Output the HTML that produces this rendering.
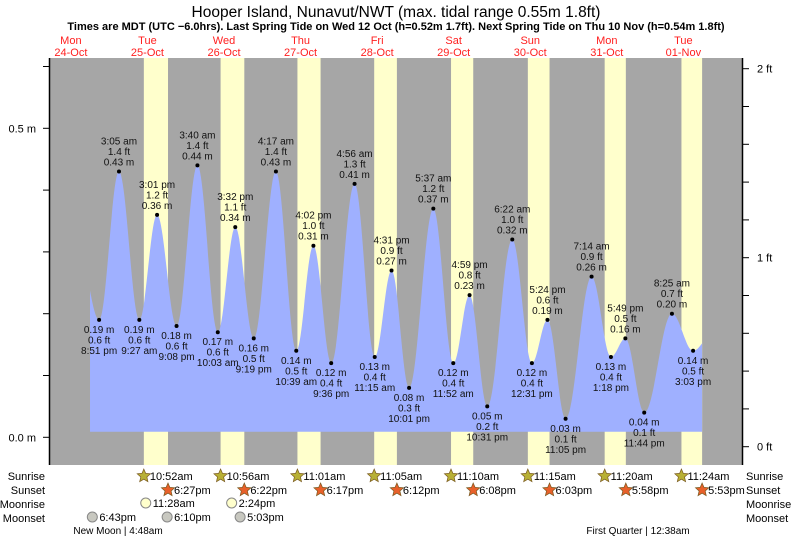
<!DOCTYPE html>
<html><head><meta charset="utf-8"><style>
body{margin:0;background:#fff;}
svg{display:block;font-family:"Liberation Sans",Arial,sans-serif;}
</style></head><body>
<svg id="chart" width="793" height="539" viewBox="0 0 793 539" xmlns="http://www.w3.org/2000/svg">
<text x="396" y="17" text-anchor="middle" font-size="15.5" fill="#000">Hooper Island, Nunavut/NWT (max. tidal range 0.55m 1.8ft)</text>
<text x="396" y="30" text-anchor="middle" font-size="11" font-weight="bold" fill="#000">Times are MDT (UTC −6.0hrs). Last Spring Tide on Wed 12 Oct (h=0.52m 1.7ft). Next Spring Tide on Thu 10 Nov (h=0.54m 1.8ft)</text>
<g id="days"></g>
<rect x="50" y="58" width="692" height="407" fill="#a6a6a6"/>
<g id="daylight"></g>
<path id="tide" fill="#9fb0ff"/>
<g id="marks"></g>
<line x1="49.5" y1="58" x2="49.5" y2="465" stroke="#000" stroke-width="1.5"/>
<line x1="742.5" y1="58" x2="742.5" y2="465" stroke="#000" stroke-width="1.5"/>
<g id="axes"></g>
<g id="astro"></g>
</svg>
<script>
const NS='http://www.w3.org/2000/svg';
// data
const dayNames=['Mon','Tue','Wed','Thu','Fri','Sat','Sun','Mon','Tue'];
const dayDates=['24-Oct','25-Oct','26-Oct','27-Oct','28-Oct','29-Oct','30-Oct','31-Oct','01-Nov'];
const tideTimes=[20.85,27.08,33.45,39.02,45.13,51.67,58.05,63.53,69.32,76.28,82.65,88.03,93.6,100.93,107.25,112.52,118.02,125.62,131.87,136.98,142.52,150.37,156.52,161.4,167.08,175.23,181.3,185.82,191.73,200.42,207.05];
const tideHeights=[0.19,0.43,0.19,0.36,0.18,0.44,0.17,0.34,0.16,0.43,0.14,0.31,0.12,0.41,0.13,0.27,0.08,0.37,0.12,0.23,0.05,0.32,0.12,0.19,0.03,0.26,0.13,0.16,0.04,0.20,0.14];
const tideFeet=['0.6','1.4','0.6','1.2','0.6','1.4','0.6','1.1','0.5','1.4','0.5','1.0','0.4','1.3','0.4','0.9','0.3','1.2','0.4','0.8','0.2','1.0','0.4','0.6','0.1','0.9','0.4','0.5','0.1','0.7','0.5'];
const tideLabels=['8:51 pm','3:05 am','9:27 am','3:01 pm','9:08 pm','3:40 am','10:03 am','3:32 pm','9:19 pm','4:17 am','10:39 am','4:02 pm','9:36 pm','4:56 am','11:15 am','4:31 pm','10:01 pm','5:37 am','11:52 am','4:59 pm','10:31 pm','6:22 am','12:31 pm','5:24 pm','11:05 pm','7:14 am','1:18 pm','5:49 pm','11:44 pm','8:25 am','3:03 pm'];
const sunriseT=[34.87,58.93,83.02,107.08,131.17,155.25,179.33,203.4];
const sunriseL=['10:52am','10:56am','11:01am','11:05am','11:10am','11:15am','11:20am','11:24am'];
const sunsetT=[42.45,66.37,90.28,114.2,138.13,162.05,185.97,209.88];
const sunsetL=['6:27pm','6:22pm','6:17pm','6:12pm','6:08pm','6:03pm','5:58pm','5:53pm'];
const moonriseT=[35.47,62.4];
const moonriseL=['11:28am','2:24pm'];
const moonsetT=[18.72,42.17,65.05];
const moonsetL=['6:43pm','6:10pm','5:03pm'];
const mTicks=[0,0.1,0.2,0.3,0.4,0.5,0.6];
const ftTicks=[0,0.2,0.4,0.6,0.8,1,1.2,1.4,1.6,1.8,2];

const X=t=>32.6+t*3.19;
const Y=h=>437.3-618*h;
const YF=f=>446.7-189*f;
function el(tag,attrs,parent,txt){const e=document.createElementNS(NS,tag);for(const k in attrs)e.setAttribute(k,attrs[k]);if(txt!==undefined)e.textContent=txt;parent.appendChild(e);return e;}
const days=document.getElementById('days');
dayNames.forEach((d,i)=>{
  const x=X(i*24+12);
  const t1=el('text',{x:x,y:44,'text-anchor':'middle','font-size':11,fill:'#ff2020'},days,d);
  
  
  const t2=el('text',{x:x,y:56,'text-anchor':'middle','font-size':11,fill:'#ff2020'},days,dayDates[i]);
  
  
});
const dl=document.getElementById('daylight');
sunriseT.forEach((s,i)=>{
  const r=el('rect',{x:X(s),y:58,width:X(sunsetT[i])-X(s),height:407,fill:'#ffffcc'},dl);
  
  
});
// tide curve
const pts=[[14.6,0.30]].concat(tideTimes.map((t,i)=>[t,tideHeights[i]])).concat([[213.5,0.17]]);
function hAt(t){for(let i=0;i<pts.length-1;i++){const a=pts[i],b=pts[i+1];if(t>=a[0]&&t<=b[0]){const f=(t-a[0])/(b[0]-a[0]);return a[1]+(b[1]-a[1])*(1-Math.cos(Math.PI*f))/2;}}return 0.15;}
let d='M'+X(18)+' 431.7';
for(let t=18;t<=209.88;t+=0.25)d+=' L'+X(t).toFixed(1)+' '+Y(hAt(t)).toFixed(1);
d+=' L'+X(209.88)+' '+Y(hAt(209.88)).toFixed(1)+' L'+X(209.88)+' 431.7 Z';
document.getElementById('tide').setAttribute('d',d);
const mk=document.getElementById('marks');
tideTimes.forEach((t,i)=>{
  const x=X(t),y=Y(tideHeights[i]);const high=i%2===1;
  const c=el('circle',{cx:x,cy:y,r:2,fill:'#000'},mk);
  
  
  const lines=high?[tideLabels[i],tideFeet[i]+' ft',tideHeights[i].toFixed(2)+' m']:[tideHeights[i].toFixed(2)+' m',tideFeet[i]+' ft',tideLabels[i]];
  const base=high?y-27:y+13;
  lines.forEach((s,j)=>{
    const tx=el('text',{x:x,y:base+j*10.5,'text-anchor':'middle','font-size':10,fill:'#111'},mk,s);
    
    
  });
});
const ax=document.getElementById('axes');
mTicks.forEach(m=>{el('line',{x1:43,x2:49,y1:Y(m),y2:Y(m),stroke:'#000'},ax);});
[[0,'0.0 m'],[0.5,'0.5 m']].forEach(a=>{const t=el('text',{x:36,y:Y(a[0])+4,'text-anchor':'end','font-size':11},ax,a[1]);});
ftTicks.forEach(f=>{el('line',{x1:743,x2:749,y1:YF(f),y2:YF(f),stroke:'#000'},ax);});
[[0,'0 ft'],[1,'1 ft'],[2,'2 ft']].forEach(a=>{const t=el('text',{x:757,y:YF(a[0])+4,'font-size':11},ax,a[1]);});
const as=document.getElementById('astro');
const rows=[['Sunrise',476],['Sunset',490],['Moonrise',504],['Moonset',518]];
rows.forEach(r=>{
  const a=el('text',{x:45,y:r[1]+4,'text-anchor':'end','font-size':11},as,r[0]);
  const b=el('text',{x:746,y:r[1]+4,'font-size':11},as,r[0]);
});
function star(cx,cy,fill){let p='';for(let k=0;k<10;k++){const r=k%2?3.2:7;const a=-Math.PI/2+k*Math.PI/5;p+=(cx+r*Math.cos(a)).toFixed(1)+','+(cy+r*Math.sin(a)).toFixed(1)+' ';}return el('polygon',{points:p,fill:fill,stroke:'#7a5a20','stroke-width':0.7},as);}
sunriseT.forEach((t,i)=>{const x=X(t);const s=star(x,476,'#b8b035');const tx=el('text',{x:x+6,y:480,'font-size':11},as,sunriseL[i]);});
sunsetT.forEach((t,i)=>{const x=X(t);const s=star(x,490,'#e8602a');const tx=el('text',{x:x+6,y:494,'font-size':11},as,sunsetL[i]);});
moonriseT.forEach((t,i)=>{const x=X(t);const c=el('circle',{cx:x,cy:503,r:5,fill:'#ffffcc',stroke:'#888'},as);const tx=el('text',{x:x+7,y:507,'font-size':11},as,moonriseL[i]);});
moonsetT.forEach((t,i)=>{const x=X(t);const c=el('circle',{cx:x,cy:517,r:5,fill:'#c8c8c0',stroke:'#888'},as);const tx=el('text',{x:x+7,y:521,'font-size':11},as,moonsetL[i]);});
const nm=el('text',{x:118,y:534,'text-anchor':'middle','font-size':10},as,'New Moon | 4:48am');
const fq=el('text',{x:638,y:534,'text-anchor':'middle','font-size':10},as,'First Quarter | 12:38am');
</script>
</body></html>
